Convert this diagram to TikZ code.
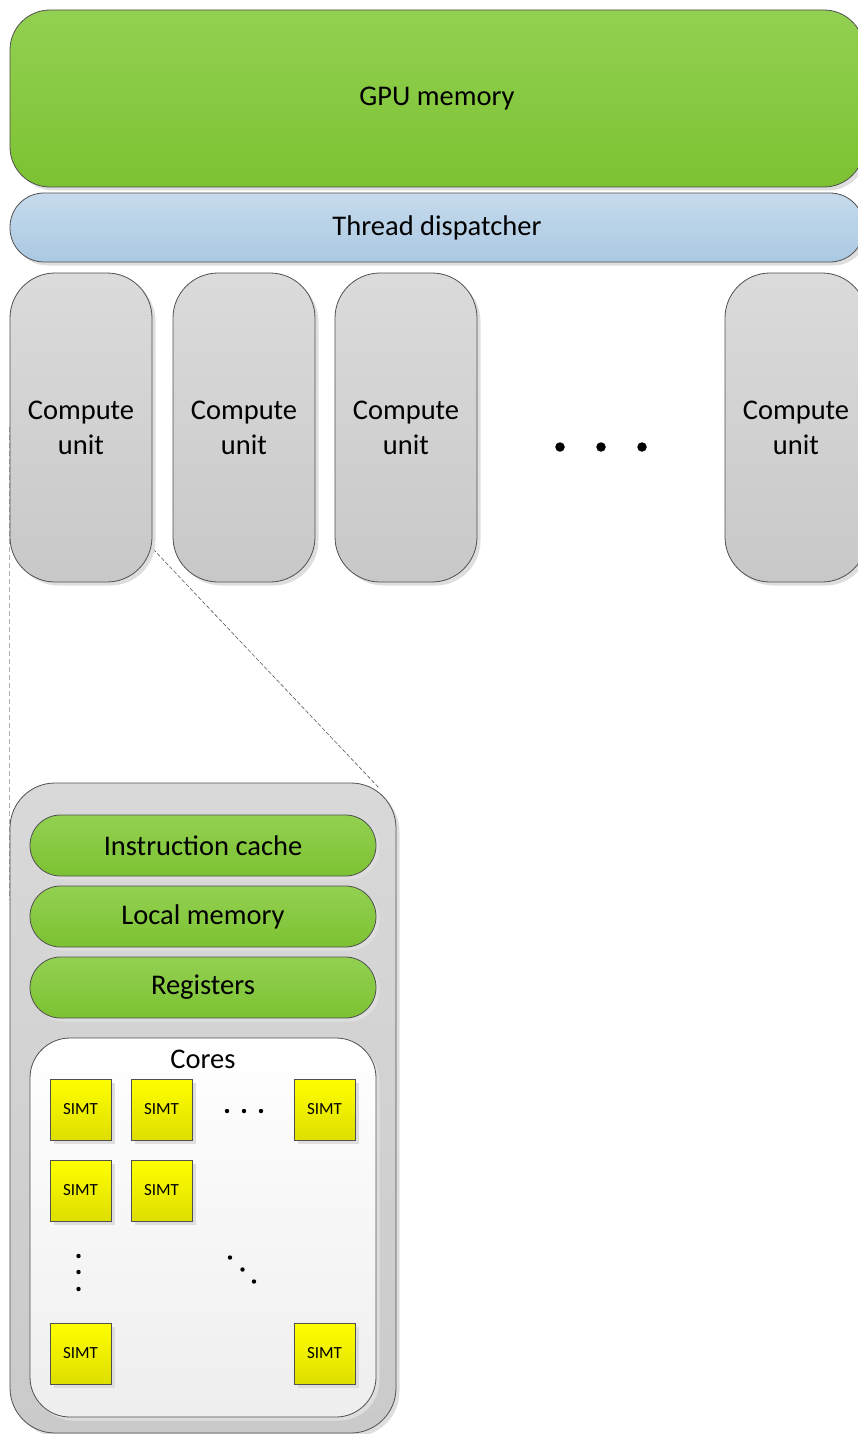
\documentclass[tikz,border=0pt]{standalone}
\usepackage{fontspec}
\setmainfont{Carlito}
\usetikzlibrary{shadows,backgrounds}
\definecolor{bordc}{RGB}{80,80,80}
\definecolor{shadc}{RGB}{222,222,222}
\definecolor{greenT}{RGB}{147,208,82}
\definecolor{greenB}{RGB}{124,194,50}
\definecolor{blueT}{RGB}{198,218,236}
\definecolor{blueB}{RGB}{170,201,226}
\definecolor{cuT}{RGB}{219,219,219}
\definecolor{cuB}{RGB}{200,200,200}
\definecolor{bigT}{RGB}{217,217,217}
\definecolor{bigB}{RGB}{202,202,202}
\definecolor{coreT}{RGB}{255,255,255}
\definecolor{coreB}{RGB}{238,238,238}
\definecolor{yelT}{RGB}{255,255,0}
\definecolor{yelB}{RGB}{222,222,0}
\definecolor{ldash}{RGB}{175,175,175}
\definecolor{ddash}{RGB}{90,90,90}
\begin{document}
\begin{tikzpicture}[x=1pt,y=-1pt,
  box/.style={draw=bordc, line width=0.8pt, inner sep=0pt, align=center,
    font=\fontsize{28.5}{35}\selectfont,
    drop shadow={shadow xshift=3.5pt, shadow yshift=-3.5pt, fill=shadc, opacity=1}},
  greenbox/.style={box, top color=greenT, bottom color=greenB},
  bluebox/.style={box, top color=blueT, bottom color=blueB},
  cubox/.style={box, top color=cuT, bottom color=cuB, minimum width=142pt, minimum height=309pt, rounded corners=45pt},
  bigbox/.style={box, top color=bigT, bottom color=bigB},
  corebox/.style={box, top color=coreT, bottom color=coreB},
  pill/.style={greenbox, minimum width=346pt, minimum height=61pt, rounded corners=30.5pt},
  simt/.style={draw=bordc, line width=0.8pt, inner sep=0pt, top color=yelT, bottom color=yelB,
    minimum width=61pt, minimum height=61pt, font=\fontsize{17}{20}\selectfont,
    drop shadow={shadow xshift=4pt, shadow yshift=-4pt, fill=shadc, opacity=1}},
  bigdot/.style={fill=black, inner sep=0pt, minimum size=9.5pt, circle},
  smalldot/.style={fill=black, inner sep=0pt, minimum size=4.4pt, circle},
  diagdash/.style={draw=ddash, line width=0.6pt, dash pattern=on 4pt off 2pt},
  leftdash/.style={draw=ldash, line width=1pt, dash pattern=on 5pt off 3pt},
  lbl/.style={inner sep=0pt, font=\fontsize{28.5}{35}\selectfont}
]
\useasboundingbox (0,0) rectangle (858,1434);
\clip (0,0) rectangle (858,1434);

\node[greenbox, minimum width=854pt, minimum height=177pt, rounded corners=40pt] (gpu) at (437,98.5) {GPU memory};
\node[bluebox, minimum width=854pt, minimum height=69pt, rounded corners=34pt] (disp) at (437,227.5) {Thread dispatcher};

\node[cubox] (cu1) at (81,427.5) {Compute\\unit};
\node[cubox] (cu2) at (244,427.5) {Compute\\unit};
\node[cubox] (cu3) at (406,427.5) {Compute\\unit};
\node[cubox] (cu4) at (796,427.5) {Compute\\unit};

\node[bigdot] (d1) at (560,447) {};
\node[bigdot] (d2) at (601,447) {};
\node[bigdot] (d3) at (642,447) {};

\node[bigbox, minimum width=386pt, minimum height=650pt, rounded corners=45pt] (big) at (203,1108) {};
\node[pill] (icache) at (203,845.5) {Instruction cache};
\node[pill] (lmem) at (203,916.5) {Local memory};
\node[pill] (regs) at (203,987.5) {Registers};
\node[corebox, minimum width=346pt, minimum height=379pt, rounded corners=40pt] (cores) at (203,1227.5) {};
\node[lbl] (coreslbl) at (203,1059) {Cores};

\node[simt] (s11) at (80.5,1109.5) {SIMT};
\node[simt] (s12) at (161.5,1109.5) {SIMT};
\node[simt] (s13) at (324.5,1109.5) {SIMT};
\node[simt] (s21) at (80.5,1190.5) {SIMT};
\node[simt] (s22) at (161.5,1190.5) {SIMT};
\node[simt] (s41) at (80.5,1353.5) {SIMT};
\node[simt] (s44) at (324.5,1353.5) {SIMT};

\node[smalldot] (h1) at (227,1111) {};
\node[smalldot] (h2) at (244,1111) {};
\node[smalldot] (h3) at (261,1111) {};
\node[smalldot] (v1) at (78.5,1256) {};
\node[smalldot] (v2) at (78.5,1272) {};
\node[smalldot] (v3) at (78.5,1289) {};
\node[smalldot] (g1) at (230,1257.5) {};
\node[smalldot] (g2) at (242.5,1269.5) {};
\node[smalldot] (g3) at (254,1281.5) {};

\coordinate (za) at (153,549);
\coordinate (zb) at (380,789);
\coordinate (la) at (9.5,427);
\coordinate (lb) at (9.5,900);
\begin{pgfonlayer}{background}
\draw[leftdash] (la) -- (lb);
\draw[diagdash] (za) -- (zb);
\end{pgfonlayer}
\end{tikzpicture}
\end{document}
